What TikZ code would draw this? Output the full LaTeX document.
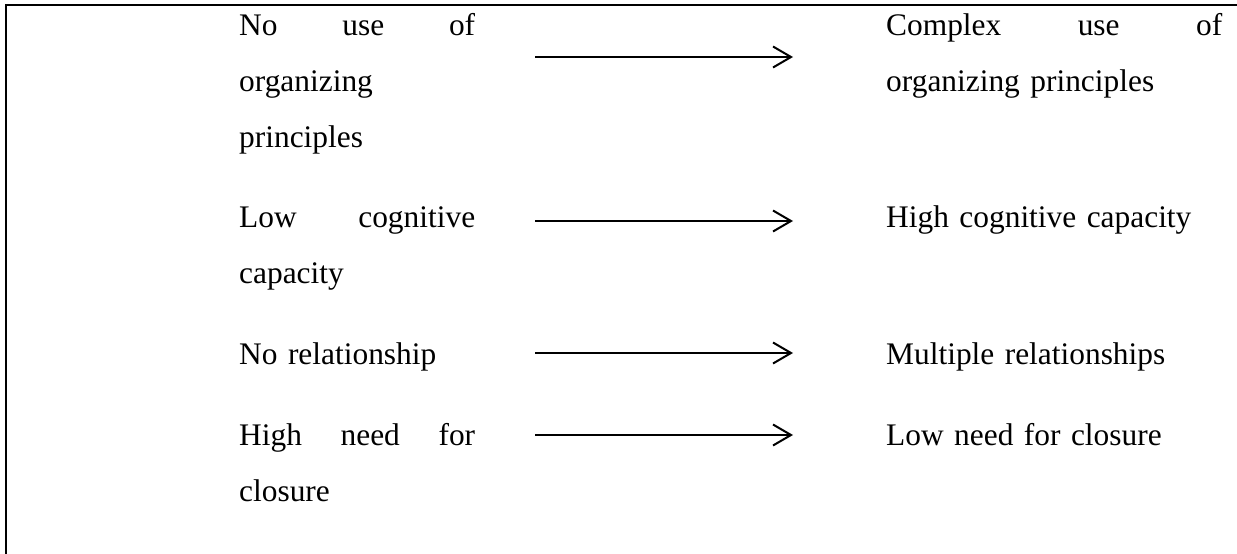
\documentclass[tikz,border=0pt]{standalone}
\usepackage{fontspec}
\setmainfont{Liberation Serif}
\usetikzlibrary{arrows.meta}
\newcommand{\spreadline}[2]{\hbox to #1{#2}}
\tikzset{
  lefttext/.style={anchor=base west, inner sep=0pt, text width=236pt, align=left,
    font=\fontsize{31.4}{56}\selectfont},
  righttext/.style={anchor=base west, inner sep=0pt, text width=340pt, align=left,
    font=\fontsize{31.4}{56}\selectfont},
  arrowline/.style={line width=2pt, -{Straight Barb[length=18pt,width=21pt]}},
  frameline/.style={line width=2pt}
}
\begin{document}
\begin{tikzpicture}[x=1pt,y=-1pt]
\useasboundingbox (0,0) rectangle (1237,554);
% frame
\coordinate (fc) at (6,5);
\coordinate (fr) at (1237,5);
\coordinate (fb) at (6,554);
\draw[frameline] (fr) -- (fc) -- (fb);
% left texts
\node[lefttext] (L1) at (239,35) {\spreadline{236pt}{No\hfill use\hfill of}\\organizing\\principles};
\node[lefttext] (L2) at (239,227) {\spreadline{236pt}{Low\hfill cognitive}\\capacity};
\node[lefttext] (L3) at (239,364) {No relationship};
\node[lefttext] (L4) at (239,445) {\spreadline{236pt}{High\hfill need\hfill for}\\closure};
% right texts
\node[righttext] (R1) at (886,35) {\spreadline{336pt}{Complex\hfill use\hfill of}\\organizing principles};
\node[righttext] (R2) at (886,227) {High cognitive capacity};
\node[righttext] (R3) at (886,364) {Multiple relationships};
\node[righttext] (R4) at (886,445) {Low need for closure};
% arrows
\coordinate (a1s) at (535,57);  \coordinate (a1e) at (793,57);
\coordinate (a2s) at (535,221); \coordinate (a2e) at (793,221);
\coordinate (a3s) at (535,353); \coordinate (a3e) at (793,353);
\coordinate (a4s) at (535,435); \coordinate (a4e) at (793,435);
\draw[arrowline] (a1s) -- (a1e);
\draw[arrowline] (a2s) -- (a2e);
\draw[arrowline] (a3s) -- (a3e);
\draw[arrowline] (a4s) -- (a4e);
\end{tikzpicture}
\end{document}
